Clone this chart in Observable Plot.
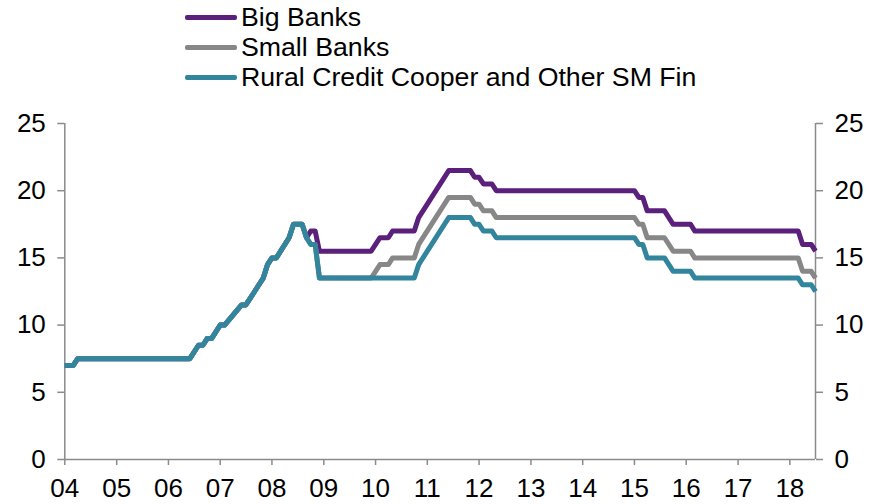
<!DOCTYPE html>
<html>
<head>
<meta charset="utf-8">
<script src="https://cdn.jsdelivr.net/npm/d3@7"></script>
<script src="https://cdn.jsdelivr.net/npm/@observablehq/plot@0.6"></script>
<style>
  html, body { margin: 0; padding: 0; background: #fff; }
  body { width: 869px; height: 504px; overflow: hidden; font-family: "Liberation Sans", Arial, sans-serif; }
  #legend { position: relative; height: 100px; width: 869px; }
  .item { position: absolute; left: 185px; height: 30px; display: flex; align-items: center; }
  .swatch { width: 52px; height: 5px; margin-right: 4px; border-radius: 2px; }
  .label { font-size: 26.7px; color: #000; white-space: nowrap; }
</style>
</head>
<body>
<div id="legend"></div>
<div id="chart"></div>
<script>
const seriesNames = ["Big Banks", "Small Banks", "Rural Credit Cooper and Other SM Fin"];
const seriesColors = ["#5b1f7c", "#878787", "#31859c"];

const bigMonths = ["2004-01","2004-03","2004-04","2006-06","2006-08","2006-09","2006-10","2006-11","2007-01","2007-02","2007-06","2007-07","2007-09","2007-10","2007-11","2007-12","2008-01","2008-02","2008-05","2008-06","2008-08",
  "2008-09","2008-10","2008-11","2008-12","2009-12","2010-02","2010-04","2010-05","2010-10","2010-11","2011-06","2011-11","2011-12","2012-01","2012-02","2012-04","2012-05","2015-01","2015-02","2015-03","2015-04","2015-08","2015-10","2016-02","2016-03","2018-03","2018-04","2018-06","2018-07"];
const bigValues = [7,7,7.5,7.5,8.5,8.5,9,9,10,10,11.5,11.5,12.5,13,13.5,14.5,15,15,16.5,17.5,17.5,
  16.5,17,17,15.5,15.5,16.5,16.5,17,17,18,21.5,21.5,21,21,20.5,20.5,20,20,19.5,19.5,18.5,18.5,17.5,17.5,17,17,16,16,15.5];

const smallMonths = ["2004-01","2004-03","2004-04","2006-06","2006-08","2006-09","2006-10","2006-11","2007-01","2007-02","2007-06","2007-07","2007-09","2007-10","2007-11","2007-12","2008-01","2008-02","2008-05","2008-06","2008-08",
  "2008-09","2008-10","2008-11","2008-12","2009-12","2010-02","2010-04","2010-05","2010-10","2010-11","2011-06","2011-11","2011-12","2012-01","2012-02","2012-04","2012-05","2015-01","2015-02","2015-03","2015-04","2015-08","2015-10","2016-02","2016-03","2018-03","2018-04","2018-06","2018-07"];
const smallValues = [7,7,7.5,7.5,8.5,8.5,9,9,10,10,11.5,11.5,12.5,13,13.5,14.5,15,15,16.5,17.5,17.5,
  16.5,16,16,13.5,13.5,14.5,14.5,15,15,16,19.5,19.5,19,19,18.5,18.5,18,18,17.5,17.5,16.5,16.5,15.5,15.5,15,15,14,14,13.5];

const ruralMonths = ["2004-01","2004-03","2004-04","2006-06","2006-08","2006-09","2006-10","2006-11","2007-01","2007-02","2007-06","2007-07","2007-09","2007-10","2007-11","2007-12","2008-01","2008-02","2008-05","2008-06","2008-08",
  "2008-09","2008-10","2008-11","2008-12","2010-10","2010-11","2011-06","2011-11","2011-12","2012-01","2012-02","2012-04","2012-05","2015-01","2015-02","2015-03","2015-04","2015-08","2015-10","2016-02","2016-03","2018-03","2018-04","2018-06","2018-07"];
const ruralValues = [7,7,7.5,7.5,8.5,8.5,9,9,10,10,11.5,11.5,12.5,13,13.5,14.5,15,15,16.5,17.5,17.5,
  16.5,16,16,13.5,13.5,14.5,18,18,17.5,17.5,17,17,16.5,16.5,16,16,15,15,14,14,13.5,13.5,13,13,12.5];

const yearTicks = [2004,2005,2006,2007,2008,2009,2010,2011,2012,2013,2014,2015,2016,2017,2018];
const yearLabels = ["04","05","06","07","08","09","10","11","12","13","14","15","16","17","18"];
const yTicks = [0,5,10,15,20,25];

const parse = d3.utcParse("%Y-%m");
const rows = [];
[[bigMonths, bigValues], [smallMonths, smallValues], [ruralMonths, ruralValues]].forEach(([ms, vs], k) => {
  ms.forEach((m, i) => rows.push({series: seriesNames[k], date: parse(m), value: vs[i]}));
});

// legend
const legend = document.getElementById("legend");
seriesNames.forEach((name, i) => {
  const it = document.createElement("div");
  it.className = "item";
  it.style.top = (2 + i * 30) + "px";
  it.innerHTML = `<div class="swatch" style="background:${seriesColors[i]}"></div><span class="label">${name}</span>`;
  legend.appendChild(it);
});

const x0 = parse("2004-01"), x1 = parse("2018-07");
const axisColor = "#8a8a8a";
const fs = 26;

const chart = Plot.plot({
  width: 869,
  height: 404,
  marginTop: 23,
  marginBottom: 45,
  marginLeft: 64.3,
  marginRight: 54,
  style: {fontFamily: "'Liberation Sans', Arial, sans-serif", fontSize: fs + "px", background: "#fff", color: "#000"},
  x: {type: "utc", domain: [x0, x1]},
  y: {domain: [0, 25]},
  color: {domain: seriesNames, range: seriesColors},
  marks: [
    Plot.axisY({anchor: "left", ticks: yTicks, tickSize: 7, tickPadding: 12, stroke: axisColor, strokeWidth: 1.5, fill: "#000", fontSize: fs, label: null}),
    Plot.axisY({anchor: "right", ticks: yTicks, tickSize: 7, tickPadding: 12, stroke: axisColor, strokeWidth: 1.5, fill: "#000", fontSize: fs, label: null}),
    Plot.axisX({ticks: yearTicks.map(y => new Date(Date.UTC(y, 0, 1))), tickFormat: d => yearLabels[yearTicks.indexOf(d.getUTCFullYear())], tickSize: 6, tickPadding: 13, stroke: axisColor, strokeWidth: 1.5, fill: "#000", fontSize: fs, label: null}),
    Plot.ruleX([x0, x1], {stroke: axisColor, strokeWidth: 1.5}),
    Plot.ruleY([0], {stroke: axisColor, strokeWidth: 1.5}),
    Plot.line(rows, {x: "date", y: "value", z: "series", stroke: "series", strokeWidth: 5, strokeLinejoin: "round", strokeLinecap: "butt"})
  ]
});
document.getElementById("chart").appendChild(chart);
</script>
</body>
</html>
